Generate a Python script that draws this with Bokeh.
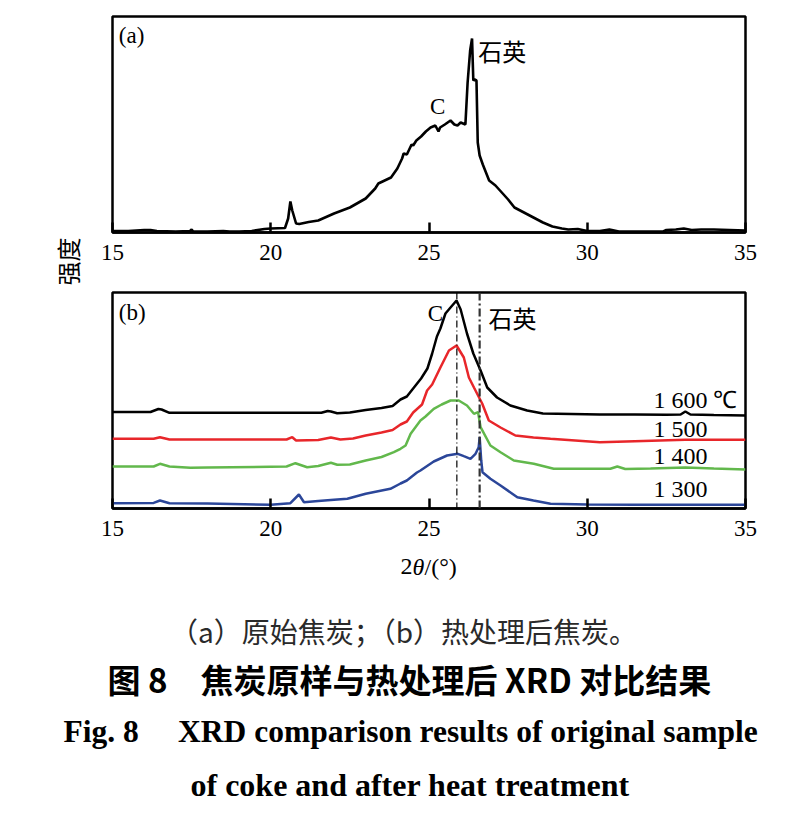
from bokeh.plotting import figure
from bokeh.models import Range1d, FixedTicker, Span, Title
from bokeh.layouts import column
from bokeh.core.properties import value
from bokeh.embed import file_html
from bokeh.resources import INLINE

# ---------------- data ----------------
tick_values = [15, 20, 25, 30, 35]
tick_labels = ["15", "20", "25", "30", "35"]

# (a) original coke
a_theta = [15.0, 15.5, 16.0, 16.2, 16.4, 17.0, 17.45, 17.5, 17.55, 18.0, 18.5, 18.7, 19.0, 19.4,
           19.8, 20.0, 20.45, 20.55, 20.62, 20.68, 20.8, 20.9, 21.2, 21.5, 22.0, 22.5, 23.0, 23.3,
           23.4, 23.8, 24.0, 24.15, 24.2, 24.3, 24.45, 24.5, 24.6, 24.75, 24.9, 25.05, 25.2, 25.3,
           25.35, 25.5, 25.68, 25.8, 25.9, 26.0, 26.15, 26.22, 26.3, 26.36, 26.4, 26.44, 26.5,
           26.54, 26.6, 26.7, 26.9, 27.1, 27.3, 27.5, 27.7, 28.0, 28.3, 28.6, 28.9, 29.2, 29.4,
           29.7, 30.0, 30.4, 30.7, 31.0, 31.5, 32.0, 32.4, 32.5, 32.8, 33.05, 33.3, 33.6, 34.0,
           34.5, 35.0]
a_int = [1.5, 1.5, 2.5, 2.5, 1.5, 1.0, 1.5, 3.0, 1.0, 1.0, 1.5, 1.0, 1.0, 1.5,
         3.5, 4.0, 4.5, 14.0, 31.0, 22.0, 9.0, 8.5, 10.5, 12.0, 19.0, 25.0, 34.0, 44.0,
         49.0, 55.0, 64.0, 74.0, 79.0, 78.0, 88.0, 87.0, 92.0, 96.0, 101.0, 105.0, 107.0, 101.0,
         105.0, 108.0, 112.0, 108.0, 107.0, 110.0, 108.0, 150.0, 182.0, 194.0, 152.0, 153.0, 152.0,
         90.0, 77.0, 68.0, 52.0, 47.0, 40.0, 33.0, 25.0, 20.0, 15.0, 10.0, 6.0, 4.0, 3.0,
         3.5, 1.5, 1.5, 3.0, 1.0, 1.0, 1.0, 1.0, 2.5, 3.0, 4.0, 2.5, 3.0, 3.0,
         2.5, 2.0]

# (b) heat-treated coke (curves as read, stacked offsets included)
t1600_theta = [15.0, 16.2, 16.45, 16.55, 16.8, 18.0, 20.0, 21.6, 21.8, 21.9, 22.1, 22.5, 23.0, 23.5,
               23.85, 24.1, 24.3, 24.5, 24.75, 24.95, 25.1, 25.25, 25.36, 25.52, 25.68, 25.87, 26.0,
               26.2, 26.4, 26.63, 26.84, 27.15, 27.57, 28.1, 28.6, 29.5, 30.4, 31.5, 32.5, 32.95,
               33.1, 33.26, 34.0, 35.0]
t1600_int = [96.5, 96.5, 99.5, 99.0, 95.7, 95.7, 95.7, 95.7, 97.5, 97.0, 95.3, 96.0, 98.5, 100.5,
             102.5, 109.0, 112.0, 120.0, 130.0, 140.0, 155.0, 172.0, 180.0, 195.0, 201.0, 208.0, 199.0,
             175.0, 155.0, 138.0, 121.0, 111.0, 103.0, 98.0, 95.0, 94.5, 94.0, 94.0, 93.8, 94.0,
             97.0, 94.0, 93.5, 93.0]

t1500_theta = [15.0, 16.3, 16.5, 16.8, 18.0, 20.5, 20.68, 20.8, 21.5, 21.9, 22.2, 22.6, 23.0, 23.5,
               23.85, 24.1, 24.3, 24.5, 24.78, 24.94, 25.1, 25.36, 25.63, 25.87, 26.1, 26.26, 26.42,
               26.68, 26.89, 27.26, 27.73, 28.3, 28.84, 30.4, 31.5, 33.1, 35.0]
t1500_int = [69.7, 69.7, 71.3, 69.0, 69.0, 69.0, 71.3, 68.0, 68.5, 71.0, 69.0, 70.0, 73.0, 76.0,
             78.5, 84.0, 87.0, 96.0, 104.0, 118.0, 124.0, 141.0, 158.0, 163.0, 151.0, 131.0, 121.0,
             105.0, 88.0, 81.0, 73.0, 71.0, 69.7, 66.3, 67.3, 68.7, 68.7]

t1400_theta = [15.0, 16.3, 16.5, 16.8, 17.46, 18.0, 20.5, 20.78, 21.15, 21.5, 21.9, 22.1, 22.5, 23.0,
               23.5, 23.89, 24.1, 24.26, 24.42, 24.73, 24.89, 25.15, 25.4, 25.68, 25.94, 26.2, 26.42,
               26.55, 26.63, 26.94, 27.26, 27.68, 28.31, 28.94, 30.0, 30.73, 30.95, 31.2, 32.0, 33.1,
               34.0, 35.0]
t1400_int = [42.0, 42.0, 44.7, 42.0, 40.7, 41.0, 42.0, 45.3, 41.3, 42.5, 45.7, 43.7, 44.0, 48.0,
             51.5, 56.3, 59.7, 63.0, 74.7, 88.0, 92.0, 99.7, 104.0, 108.0, 108.0, 103.0, 94.7,
             96.3, 81.3, 63.0, 56.3, 48.0, 44.7, 39.7, 39.7, 39.7, 42.0, 39.5, 40.0, 41.0,
             40.0, 39.0]

t1300_theta = [15.0, 16.3, 16.5, 16.8, 18.0, 20.0, 20.62, 20.89, 21.05, 21.5, 22.0, 22.42, 23.0, 23.78,
               24.1, 24.3, 24.62, 24.73, 25.15, 25.57, 25.91, 26.1, 26.31, 26.47, 26.57, 26.6, 26.65,
               26.69, 26.94, 27.26, 27.79, 28.3, 28.84, 30.0, 31.5, 33.0, 35.0]
t1300_int = [5.3, 5.6, 8.0, 5.3, 5.0, 3.7, 5.3, 14.0, 6.3, 7.5, 8.7, 9.7, 14.7, 19.7,
             25.0, 28.0, 36.0, 38.0, 47.0, 53.0, 54.7, 52.3, 49.7, 54.7, 61.3, 71.3, 48.0,
             36.3, 29.7, 23.0, 11.3, 8.0, 4.7, 4.0, 3.7, 3.7, 3.7]

series_labels = ["1 600 \u2103", "1 500", "1 400", "1 300"]
c_peak = 25.88
quartz_peak = 26.6

caption_sub = "（a）原始焦炭；（b）热处理后焦炭。"
caption_cn = "图 8　焦炭原样与热处理后 XRD 对比结果"
caption_en1 = "Fig. 8\u00a0\u00a0\u00a0\u00a0\u00a0XRD comparison results of original sample"
caption_en2 = "of coke and after heat treatment"

SERIF = "Liberation Serif"
CJK = "Noto Sans CJK SC"
W = 801


def make_panel(height, top, bottom):
    p = figure(width=W, height=height, x_range=Range1d(15, 35), y_range=Range1d(0, 216),
               output_backend="svg", toolbar_location=None,
               min_border_left=112, min_border_right=56,
               min_border_top=top, min_border_bottom=bottom)
    p.yaxis.visible = False
    p.grid.visible = False
    p.outline_line_color = "black"
    p.outline_line_width = 2.5
    p.background_fill_color = "white"
    p.border_fill_color = "white"
    ax = p.xaxis[0]
    ax.ticker = FixedTicker(ticks=tick_values)
    ax.major_label_overrides = {v: s for v, s in zip(tick_values, tick_labels)}
    ax.major_tick_in = 10
    ax.major_tick_out = 0
    ax.minor_tick_in = 0
    ax.minor_tick_out = 0
    ax.axis_line_width = 2.5
    ax.major_tick_line_width = 2.5
    ax.major_label_text_font = SERIF
    ax.major_label_text_font_size = "23px"
    ax.major_label_text_color = "black"
    ax.major_label_standoff = 12
    return p


# ---------- panel (a) ----------
pa = make_panel(290, 16, 58)
pa.line(a_theta, a_int, line_color="black", line_width=2.6)
pa.text(x=[15.2], y=[197], text=["(a)"], text_font=value(SERIF), text_font_size=value("23px"),
        text_align="left", text_baseline="middle", text_color="black")
pa.text(x=[25.27], y=[126], text=["C"], text_font=value(SERIF), text_font_size=value("23px"),
        text_align="center", text_baseline="middle", text_color="black")
pa.text(x=[26.56], y=[182], text=["石英"], text_font=value(CJK), text_font_size=value("24px"),
        text_align="left", text_baseline="middle", text_color="black")
pa.add_layout(Title(text="强度", align="left", offset=-53, standoff=56, text_font=CJK,
                    text_font_size="24px", text_font_style="normal", text_color="black"), "left")

# ---------- panel (b) ----------
pb = make_panel(258, 2, 40)
pb.add_layout(Span(location=c_peak, dimension="height", line_color="black", line_width=1.2,
                   line_dash="7 3 1 3"))
pb.add_layout(Span(location=quartz_peak, dimension="height", line_color="#333333", line_width=2.2,
                   line_dash="8 3 2 3"))
pb.line(t1600_theta, t1600_int, line_color="black", line_width=2.5)
pb.line(t1500_theta, t1500_int, line_color="#e8262a", line_width=2.5)
pb.line(t1400_theta, t1400_int, line_color="#62b84c", line_width=2.5)
pb.line(t1300_theta, t1300_int, line_color="#2b4699", line_width=2.5)
pb.text(x=[32.09] * 4, y=[109, 80, 53, 20], text=series_labels, text_font=value(SERIF),
        text_font_size=value("24px"), text_align="left", text_baseline="middle", text_color="black")
pb.text(x=[15.2], y=[196], text=["(b)"], text_font=value(SERIF), text_font_size=value("23px"),
        text_align="left", text_baseline="middle", text_color="black")
pb.text(x=[25.2], y=[195], text=["C"], text_font=value(SERIF), text_font_size=value("23px"),
        text_align="center", text_baseline="middle", text_color="black")
pb.text(x=[26.88], y=[191], text=["石英"], text_font=value(CJK), text_font_size=value("24px"),
        text_align="left", text_baseline="middle", text_color="black")

# ---------- caption area: frame (page y 548..650) + titles below ----------
pc = figure(frame_width=633, frame_height=102, x_range=Range1d(112, 745), y_range=Range1d(102, 0),
            output_backend="svg", toolbar_location=None, x_axis_type=None, y_axis_type=None,
            min_border_left=112, min_border_right=56, min_border_top=0, min_border_bottom=0)
pc.grid.visible = False
pc.outline_line_color = None
pc.background_fill_color = "white"
pc.border_fill_color = "white"

# x-axis title 2θ/(°)
pc.text(x=[400], y=[18], text=["2"], text_font=value(SERIF), text_font_size=value("24px"),
        text_align="left", text_baseline="alphabetic", text_color="black")
pc.text(x=[412], y=[18], text=["θ"], text_font=value(SERIF), text_font_size=value("24px"),
        text_font_style="italic", text_align="left", text_baseline="alphabetic", text_color="black")
pc.text(x=[424], y=[18], text=["/(°)"], text_font=value(SERIF), text_font_size=value("24px"),
        text_align="left", text_baseline="alphabetic", text_color="black")

pc.text(x=[410], y=[82], text=[caption_sub], text_font=value(CJK),
        text_font_size=value("28px"), text_align="center", text_baseline="middle", text_color="#2a2a2a")

pc.add_layout(Title(text=caption_cn, align="left", offset=-5, standoff=6, vertical_align="middle",
                    text_font=CJK, text_font_size="33px", text_font_style="bold",
                    text_color="black"), "below")
pc.add_layout(Title(text=caption_en1, align="left", offset=-49, standoff=12, vertical_align="middle",
                    text_font=SERIF, text_font_size="31.5px", text_font_style="bold",
                    text_color="black"), "below")
pc.add_layout(Title(text=caption_en2, align="left", offset=78, standoff=20, vertical_align="middle",
                    text_font=SERIF, text_font_size="32px", text_font_style="bold",
                    text_color="black"), "below")

layout = column(pa, pb, pc, spacing=0)
open("out.html", "w").write(file_html(layout, INLINE))
